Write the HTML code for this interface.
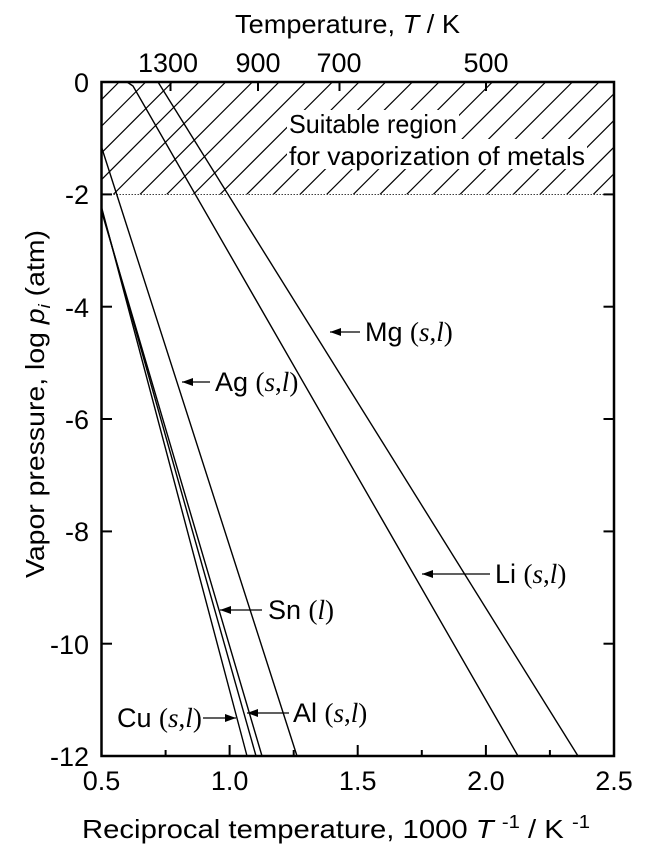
<!DOCTYPE html>
<html><head><meta charset="utf-8"><style>
html,body{margin:0;padding:0;background:#fff;}
svg{display:block;}
text{font-family:"Liberation Sans",Arial,sans-serif;fill:#000;}
.it{font-family:"Liberation Serif",serif;font-style:italic;}
.sr{font-family:"Liberation Serif",serif;}
</style></head><body>
<svg width="654" height="857" viewBox="0 0 654 857" xmlns="http://www.w3.org/2000/svg">
<defs>
<clipPath id="hc"><rect x="101.5" y="82" width="512.5" height="112.4"/></clipPath>
<marker id="ar" markerWidth="11" markerHeight="8" refX="11" refY="4" orient="auto" markerUnits="userSpaceOnUse">
<path d="M0,0 L11,4 L0,8 z" fill="#000"/></marker>
</defs>
<g clip-path="url(#hc)" stroke="#000" stroke-width="1.2">
<line x1="-20" y1="194.4" x2="92.4" y2="82"/>
<line x1="6.7" y1="194.4" x2="119.1" y2="82"/>
<line x1="33.3" y1="194.4" x2="145.7" y2="82"/>
<line x1="60" y1="194.4" x2="172.4" y2="82"/>
<line x1="86.7" y1="194.4" x2="199.1" y2="82"/>
<line x1="113.3" y1="194.4" x2="225.7" y2="82"/>
<line x1="140" y1="194.4" x2="252.4" y2="82"/>
<line x1="166.7" y1="194.4" x2="279.1" y2="82"/>
<line x1="193.3" y1="194.4" x2="305.7" y2="82"/>
<line x1="220" y1="194.4" x2="332.4" y2="82"/>
<line x1="246.7" y1="194.4" x2="359.1" y2="82"/>
<line x1="273.3" y1="194.4" x2="385.7" y2="82"/>
<line x1="300" y1="194.4" x2="412.4" y2="82"/>
<line x1="326.7" y1="194.4" x2="439.1" y2="82"/>
<line x1="353.3" y1="194.4" x2="465.7" y2="82"/>
<line x1="380" y1="194.4" x2="492.4" y2="82"/>
<line x1="406.7" y1="194.4" x2="519.1" y2="82"/>
<line x1="433.3" y1="194.4" x2="545.7" y2="82"/>
<line x1="460" y1="194.4" x2="572.4" y2="82"/>
<line x1="486.7" y1="194.4" x2="599.1" y2="82"/>
<line x1="513.3" y1="194.4" x2="625.7" y2="82"/>
<line x1="540" y1="194.4" x2="652.4" y2="82"/>
<line x1="566.7" y1="194.4" x2="679.1" y2="82"/>
<line x1="593.3" y1="194.4" x2="705.7" y2="82"/>
</g>
<rect x="287" y="110" width="172" height="29" fill="#fff"/>
<rect x="287" y="139" width="300" height="30" fill="#fff"/>
<text x="289" y="133" font-size="26" textLength="168" lengthAdjust="spacingAndGlyphs">Suitable region</text>
<text x="289" y="165" font-size="26" textLength="296" lengthAdjust="spacingAndGlyphs">for vaporization of metals</text>
<line x1="101.5" y1="194.4" x2="614" y2="194.4" stroke="#000" stroke-width="0.8" stroke-dasharray="1.5,1.5"/>

<g stroke="#000" stroke-width="1.4" fill="none">
<polyline points="127,82 133,86 518,756"/>
<line x1="158" y1="82" x2="578" y2="756"/>
<line x1="101.5" y1="147" x2="297" y2="756"/>
<line x1="101.5" y1="207" x2="247" y2="756"/>
<line x1="101.5" y1="209" x2="256" y2="756"/>
<line x1="101.5" y1="211" x2="262" y2="756"/>
</g>

<g stroke="#000" stroke-width="1.3">
<line x1="360" y1="332" x2="330" y2="332" marker-end="url(#ar)"/>
<line x1="210" y1="382" x2="182" y2="382" marker-end="url(#ar)"/>
<line x1="490" y1="574" x2="422" y2="574" marker-end="url(#ar)"/>
<line x1="262" y1="610" x2="220" y2="610" marker-end="url(#ar)"/>
<line x1="289" y1="713" x2="247" y2="713" marker-end="url(#ar)"/>
<line x1="203" y1="718" x2="236" y2="718" marker-end="url(#ar)"/>
</g>
<g font-size="27">
<text x="365" y="341">Mg <tspan class="sr">(</tspan><tspan class="it">s</tspan><tspan class="sr">,</tspan><tspan class="it">l</tspan><tspan class="sr">)</tspan></text>
<text x="215" y="391">Ag <tspan class="sr">(</tspan><tspan class="it">s</tspan><tspan class="sr">,</tspan><tspan class="it">l</tspan><tspan class="sr">)</tspan></text>
<text x="495" y="583">Li <tspan class="sr">(</tspan><tspan class="it">s</tspan><tspan class="sr">,</tspan><tspan class="it">l</tspan><tspan class="sr">)</tspan></text>
<text x="268" y="619">Sn <tspan class="sr">(</tspan><tspan class="it">l</tspan><tspan class="sr">)</tspan></text>
<text x="293" y="722">Al <tspan class="sr">(</tspan><tspan class="it">s</tspan><tspan class="sr">,</tspan><tspan class="it">l</tspan><tspan class="sr">)</tspan></text>
<text x="117" y="727">Cu <tspan class="sr">(</tspan><tspan class="it">s</tspan><tspan class="sr">,</tspan><tspan class="it">l</tspan><tspan class="sr">)</tspan></text>
</g>

<rect x="101.5" y="82" width="512.5" height="674" fill="none" stroke="#000" stroke-width="2.5"/>
<g stroke="#000" stroke-width="2">
<line x1="101.5" y1="194.4" x2="112" y2="194.4"/>
<line x1="101.5" y1="306.7" x2="112" y2="306.7"/>
<line x1="101.5" y1="419" x2="112" y2="419"/>
<line x1="101.5" y1="531.4" x2="112" y2="531.4"/>
<line x1="101.5" y1="643.7" x2="112" y2="643.7"/>
<line x1="614" y1="194.4" x2="603.5" y2="194.4"/>
<line x1="614" y1="306.7" x2="603.5" y2="306.7"/>
<line x1="614" y1="419" x2="603.5" y2="419"/>
<line x1="614" y1="531.4" x2="603.5" y2="531.4"/>
<line x1="614" y1="643.7" x2="603.5" y2="643.7"/>
<line x1="229.6" y1="756" x2="229.6" y2="745"/>
<line x1="357.7" y1="756" x2="357.7" y2="745"/>
<line x1="485.9" y1="756" x2="485.9" y2="745"/>
<line x1="165.6" y1="756" x2="165.6" y2="750"/>
<line x1="293.7" y1="756" x2="293.7" y2="750"/>
<line x1="421.8" y1="756" x2="421.8" y2="750"/>
<line x1="549.9" y1="756" x2="549.9" y2="750"/>
<line x1="170.5" y1="82" x2="170.5" y2="91"/>
<line x1="258" y1="82" x2="258" y2="91"/>
<line x1="339.5" y1="82" x2="339.5" y2="91"/>
<line x1="486" y1="82" x2="486" y2="91"/>
</g>
<g font-size="27" text-anchor="end">
<text x="89" y="92">0</text>
<text x="89" y="204">-2</text>
<text x="89" y="317">-4</text>
<text x="89" y="429">-6</text>
<text x="89" y="541">-8</text>
<text x="89" y="654">-10</text>
<text x="89" y="766">-12</text>
</g>
<g font-size="27" text-anchor="middle">
<text x="101.5" y="790">0.5</text>
<text x="229.6" y="790">1.0</text>
<text x="357.7" y="790">1.5</text>
<text x="485.9" y="790">2.0</text>
<text x="614" y="790">2.5</text>
<text x="168" y="72">1300</text>
<text x="258" y="72">900</text>
<text x="339" y="72">700</text>
<text x="486" y="72">500</text>
</g>
<text x="235" y="33" font-size="26" textLength="225" lengthAdjust="spacingAndGlyphs">Temperature, <tspan font-style="italic">T</tspan> / K</text>
<text x="82" y="838" font-size="26" textLength="508" lengthAdjust="spacingAndGlyphs">Reciprocal temperature, 1000 <tspan font-style="italic">T</tspan> <tspan font-size="18" dy="-10">-1</tspan><tspan dy="10"> / K</tspan> <tspan font-size="18" dy="-10">-1</tspan></text>
<text transform="translate(44,578) rotate(-90)" font-size="26" textLength="348" lengthAdjust="spacingAndGlyphs">Vapor pressure, log <tspan font-style="italic">p</tspan><tspan font-style="italic" font-size="17" dy="6">i</tspan><tspan dy="-6"> (atm)</tspan></text>
</svg>
</body></html>
